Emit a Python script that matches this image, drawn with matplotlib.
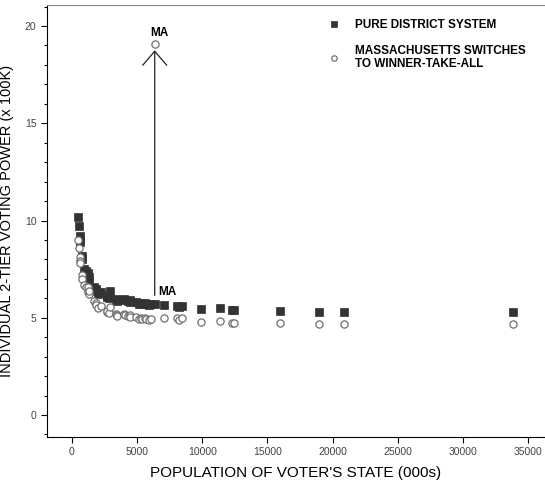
import matplotlib.pyplot as plt
from matplotlib.ticker import MultipleLocator

plt.rcParams['font.family'] = ['Liberation Sans', 'DejaVu Sans']

# states sorted by population (2000 census, thousands)
states = ['WY', 'DC', 'VT', 'AK', 'ND', 'SD', 'DE', 'MT', 'RI', 'HI', 'NH', 'ME', 'ID',
          'NE', 'WV', 'NM', 'NV', 'UT', 'AR', 'KS', 'MS', 'IA', 'CT', 'OR', 'OK', 'SC',
          'KY', 'CO', 'AL', 'LA', 'MN', 'AZ', 'MD', 'WI', 'MO', 'TN', 'WA', 'IN', 'MA',
          'VA', 'NC', 'GA', 'NJ', 'MI', 'OH', 'PA', 'IL', 'FL', 'NY', 'TX', 'CA']
population = [494, 572, 609, 627, 642, 755, 784, 902, 1048, 1212, 1236, 1275, 1294,
              1711, 1808, 1819, 1998, 2233, 2673, 2688, 2845, 2926, 3406, 3421, 3451, 4012,
              4042, 4301, 4447, 4469, 4919, 5131, 5296, 5364, 5595, 5689, 5894, 6080, 6349,
              7079, 8049, 8186, 8414, 9938, 11353, 12281, 12419, 15982, 18976, 20852, 33872]
# voting power, pure district system
district = [10.2, 9.7, 9.2, 9.0, 8.9, 8.2, 8.0, 7.5, 7.4, 7.0, 7.3, 6.9, 7.1,
            6.6, 6.5, 6.4, 6.2, 6.3, 6.05, 6.1, 6.0, 6.4, 5.95, 5.9, 5.85, 5.95,
            5.9, 5.85, 5.9, 5.8, 5.8, 5.7, 5.75, 5.7, 5.75, 5.7, 5.65, 5.7, 5.7,
            5.66, 5.62, 5.55, 5.6, 5.43, 5.49, 5.40, 5.38, 5.36, 5.28, 5.28, 5.28]
# voting power when Massachusetts switches to winner-take-all
ma_switch = [9.0, 8.6, 8.1, 7.9, 7.8, 7.2, 7.0, 6.7, 6.6, 6.3, 6.6, 6.2, 6.4,
             5.85, 5.75, 5.65, 5.5, 5.6, 5.3, 5.35, 5.25, 5.55, 5.2, 5.15, 5.1, 5.2,
             5.15, 5.1, 5.15, 5.05, 5.05, 4.95, 5.0, 4.95, 5.0, 4.95, 4.9, 4.95, 19.1,
             4.97, 4.97, 4.9, 4.97, 4.77, 4.85, 4.75, 4.73, 4.75, 4.68, 4.68, 4.68]

fig = plt.figure(figsize=(5.45, 4.8), dpi=100)
ax = fig.add_axes([0.0862, 0.0896, 0.9138, 0.9])

ax.plot(population, ma_switch, 'o', ms=5.2, mfc='white', mec='#707070', mew=0.9,
        label='MASSACHUSETTS SWITCHES\nTO WINNER-TAKE-ALL', zorder=3)
ax.plot(population, district, 's', ms=5.2, mfc='#333333', mec='#333333', mew=0.5,
        label='PURE DISTRICT SYSTEM', zorder=2)

ma = states.index('MA')
ax.annotate('', xy=(population[ma], 18.75), xytext=(population[ma], 6.15),
            arrowprops=dict(arrowstyle='->, head_width=0.62, head_length=0.72',
                            color='#222222', lw=0.9, shrinkA=0, shrinkB=0,
                            mutation_scale=14))
ax.text(population[ma] + 250, 6.32, 'MA', fontsize=8.5, fontweight='bold', va='center', ha='left')
ax.text(population[ma] + 330, 19.65, 'MA', fontsize=8.5, fontweight='bold', va='center', ha='center')

ax.set_xlim(-1920, 36300)
ax.set_ylim(-1.13, 21.08)
ax.xaxis.set_major_locator(MultipleLocator(5000))
ax.yaxis.set_major_locator(MultipleLocator(5))
ax.yaxis.set_minor_locator(MultipleLocator(1))
ax.tick_params(labelsize=7.5, labelcolor='#444444', length=4, width=0.8)
ax.tick_params(which='minor', length=2.5, width=0.8)

ax.spines['right'].set_visible(False)
ax.spines['top'].set_color('#888888')

ax.set_xlabel("POPULATION OF VOTER'S STATE (000s)", fontsize=11, labelpad=6)
ax.set_ylabel('INDIVIDUAL 2-TIER VOTING POWER (x 100K)', fontsize=10.5, labelpad=8)

handles, labels = ax.get_legend_handles_labels()
leg = ax.legend(handles[::-1], labels[::-1], loc='upper left', bbox_to_anchor=(0.54, 0.992),
                frameon=False, fontsize=8.5, markerscale=0.75, handlelength=1.2,
                handletextpad=1.2, labelspacing=1.15)
for t in leg.get_texts():
    t.set_fontweight('bold')

fig.savefig('out.png', dpi=100)
